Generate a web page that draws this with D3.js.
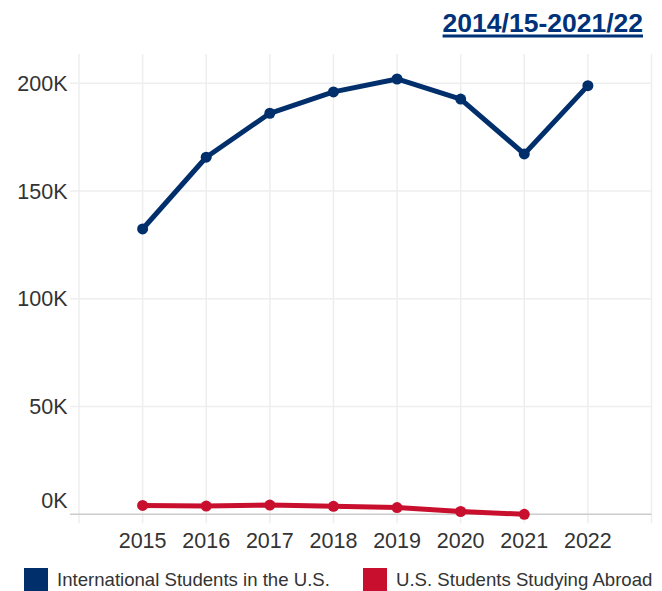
<!DOCTYPE html>
<html>
<head>
<meta charset="utf-8">
<script src="https://cdn.jsdelivr.net/npm/d3@7"></script>
<style>
  body { margin: 0; background: #fff; }
  svg { display: block; font-family: "Liberation Sans", Arial, sans-serif; }
</style>
</head>
<body>
<svg id="chart"></svg>
<script>
const years = [2015, 2016, 2017, 2018, 2019, 2020, 2021, 2022];
const intlStudents = [132400, 165700, 186100, 196000, 202000, 192700, 167200, 198900];
const usAbroad = [4100, 3800, 4300, 3700, 3100, 1300, 0];
const yTicks = [0, 50000, 100000, 150000, 200000];
const seriesNames = ['International Students in the U.S.', 'U.S. Students Studying Abroad'];
const colors = ['#002f6c', '#c8102e'];
const title = '2014/15-2021/22';

const width = 662, height = 591;
const svg = d3.select('#chart').attr('width', width).attr('height', height);

const x = d3.scaleLinear().domain([2014, 2023]).range([79, 651.5]);
const y = d3.scaleLinear().domain([0, 200000]).range([514.3, 83.3]);
const plotTop = 54, plotLeft = 70;

// grid
const grid = svg.append('g');
grid.selectAll('.vgrid').data(d3.range(2014, 2024)).enter()
  .append('line')
  .attr('x1', d => x(d)).attr('x2', d => x(d))
  .attr('y1', plotTop).attr('y2', y(0) + 9)
  .attr('stroke', '#eeeeee').attr('stroke-width', 1.5);
grid.selectAll('.hgrid').data(yTicks.filter(d => d > 0)).enter()
  .append('line')
  .attr('x1', plotLeft).attr('x2', x(2023))
  .attr('y1', d => y(d)).attr('y2', d => y(d))
  .attr('stroke', '#eeeeee').attr('stroke-width', 1.5);

// baseline
svg.append('line')
  .attr('x1', plotLeft).attr('x2', x(2023))
  .attr('y1', y(0)).attr('y2', y(0))
  .attr('stroke', '#cccccc').attr('stroke-width', 1.5);

// y axis labels (0K sits above the baseline)
svg.append('g').selectAll('text').data(yTicks).enter()
  .append('text')
  .attr('x', 67.5)
  .attr('y', d => d === 0 ? y(d) - 14 : y(d))
  .attr('dy', '0.35em')
  .attr('text-anchor', 'end')
  .attr('font-size', 21.5).attr('fill', '#333')
  .text(d => (d / 1000) + 'K');

// x axis labels
svg.append('g').selectAll('text').data(years).enter()
  .append('text')
  .attr('x', d => x(d))
  .attr('y', 547.5)
  .attr('text-anchor', 'middle')
  .attr('font-size', 21.5).attr('fill', '#333')
  .text(d => d);

// series
const line = d3.line().x(d => x(d[0])).y(d => y(d[1]));
[intlStudents, usAbroad].forEach((vals, i) => {
  const pts = vals.map((v, j) => [years[j], v]);
  const g = svg.append('g');
  g.append('path').datum(pts)
    .attr('d', line)
    .attr('fill', 'none')
    .attr('stroke', colors[i])
    .attr('stroke-width', 5)
    .attr('stroke-linejoin', 'round');
  g.selectAll('circle').data(pts).enter()
    .append('circle')
    .attr('cx', d => x(d[0])).attr('cy', d => y(d[1]))
    .attr('r', 5.5).attr('fill', colors[i]);
});

// title
const t = svg.append('text')
  .attr('x', 643).attr('y', 31.5)
  .attr('text-anchor', 'end')
  .attr('font-size', 26.5).attr('font-weight', 'bold')
  .attr('fill', '#00327a')
  .text(title);
const tb = t.node().getBBox();
svg.append('rect')
  .attr('x', tb.x).attr('y', 34.5)
  .attr('width', tb.width).attr('height', 3)
  .attr('fill', '#00327a');

// legend
const legendX = [24, 363];
seriesNames.forEach((name, i) => {
  svg.append('rect')
    .attr('x', legendX[i]).attr('y', 568)
    .attr('width', 24).attr('height', 23)
    .attr('fill', colors[i]);
  svg.append('text')
    .attr('x', legendX[i] + 33).attr('y', 585.5)
    .attr('font-size', 18.6).attr('fill', '#333')
    .text(name);
});
</script>
</body>
</html>
